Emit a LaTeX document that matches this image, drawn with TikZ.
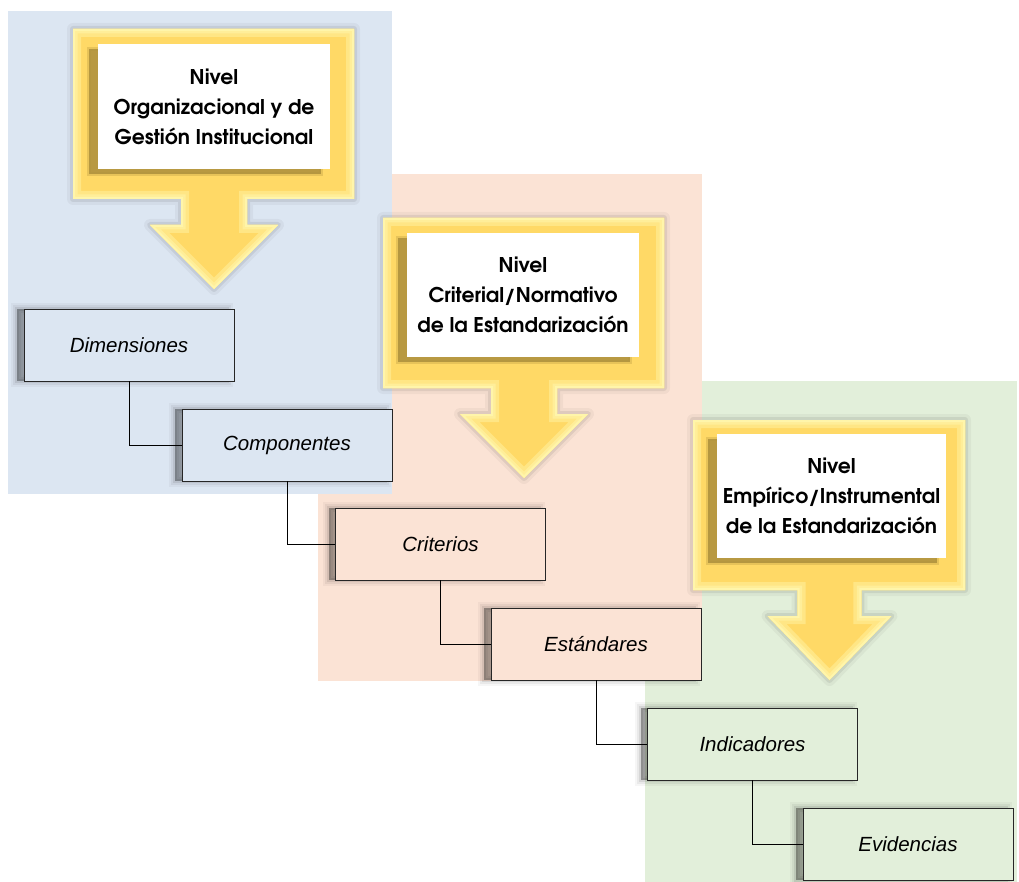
\documentclass[tikz,border=0pt]{standalone}
\usepackage{fontspec}
\setmainfont{Liberation Sans}
\newfontfamily\hdfont{texgyreadventor-bold.otf}
\usetikzlibrary{shadows}
\definecolor{pblue}{HTML}{DCE6F2}
\definecolor{ppeach}{HTML}{FBE3D5}
\definecolor{pgreen}{HTML}{E2EFDA}
\definecolor{gold}{HTML}{FFD966}
\definecolor{goldlight}{HTML}{FFF5AA}
\definecolor{goldshadow}{HTML}{B0923E}

\tikzset{
 lvlbox/.style={draw=black!85, line width=0.9pt, minimum width=210pt, minimum height=72pt, inner sep=0pt,
   font=\itshape\fontsize{20.5}{24}\selectfont,
   general shadow={fill=black, draw=black, line width=12pt, opacity=.035, shadow xshift=-7pt, shadow yshift=0pt},
   general shadow={fill=black, draw=black, line width=8pt, opacity=.05, shadow xshift=-7pt, shadow yshift=0pt},
   general shadow={fill=black, draw=black, line width=4pt, opacity=.08, shadow xshift=-7pt, shadow yshift=0pt},
   general shadow={fill=black, opacity=.2, shadow xshift=-7pt, shadow yshift=0pt}},
 conn/.style={draw=black, line width=0.9pt},
 hdbox/.style={fill=white, inner sep=0pt, align=center,
   font=\hdfont\fontsize{20.3}{30}\selectfont,
   general shadow={fill=goldshadow, draw=goldshadow, line width=4pt, opacity=.3, shadow xshift=-9pt, shadow yshift=-5pt},
   general shadow={fill=goldshadow, opacity=.85, shadow xshift=-9pt, shadow yshift=-5pt}}
}

\newcommand\arrshape[1]{\path[#1] (0,0) -- (281,0) -- (281,170) -- (174,170) -- (174,196) -- (205,196) -- (141,260) -- (77,196) -- (108,196) -- (108,170) -- (0,170) -- cycle;}
\newcommand\arrclip{\clip (0,0) -- (281,0) -- (281,170) -- (174,170) -- (174,196) -- (205,196) -- (141,260) -- (77,196) -- (108,196) -- (108,170) -- (0,170) -- cycle;}
\newcommand\goldframe[3]{%
 \begin{scope}[shift={(#1,#2)}, xscale=#3]
  \arrshape{draw=black, line width=12pt, opacity=.04, line join=round}
  \arrshape{draw=black, line width=6pt, opacity=.07, line join=round}
  \arrshape{fill=gold}
  \begin{scope}
   \arrclip
   \arrshape{draw=gold!55!goldlight, line width=16pt}
   \arrshape{draw=gold!25!goldlight, line width=9pt}
   \arrshape{draw=goldlight, line width=4pt}
  \end{scope}
 \end{scope}}

\begin{document}
\begin{tikzpicture}[x=1pt, y=-1pt]
\useasboundingbox (0,0) rectangle (1019,882);
\fill[white] (0,0) rectangle (1019,882);
% panels
\fill[pgreen] (645,381) rectangle (1017,882);
\fill[ppeach] (318,174) rectangle (702,681);
\fill[pblue] (8,11) rectangle (392,494);

% gold arrows
\goldframe{73}{29}{1}
\goldframe{383}{218}{1}
\goldframe{693}{420}{0.968}

\node[hdbox, minimum width=232pt, minimum height=125pt] (h1) at (214,106.5) {Nivel\\Organizacional y de\\Gestión Institucional};
\node[hdbox, minimum width=232pt, minimum height=124pt] (h2) at (523,295) {Nivel\\Criterial/Normativo\\de la Estandarización};
\node[hdbox, minimum width=229pt, minimum height=124pt] (h3) at (831.5,496) {Nivel\\Empírico/Instrumental\\de la Estandarización};

% level boxes
\node[lvlbox, fill=pblue] (dim) at (129,345) {Dimensiones};
\node[lvlbox, fill=pblue] (comp) at (287,445) {Componentes};
\node[lvlbox, fill=ppeach] (crit) at (440.5,544) {Criterios};
\node[lvlbox, fill=ppeach] (est) at (596,644) {Estándares};
\node[lvlbox, fill=pgreen] (ind) at (752.5,744) {Indicadores};
\node[lvlbox, fill=pgreen] (evi) at (908,844) {Evidencias};

% connectors
\draw[conn] (dim.south) |- (comp.west);
\draw[conn] (comp.south) |- (crit.west);
\draw[conn] (crit.south) |- (est.west);
\draw[conn] (est.south) |- (ind.west);
\draw[conn] (ind.south) |- (evi.west);
\end{tikzpicture}
\end{document}
